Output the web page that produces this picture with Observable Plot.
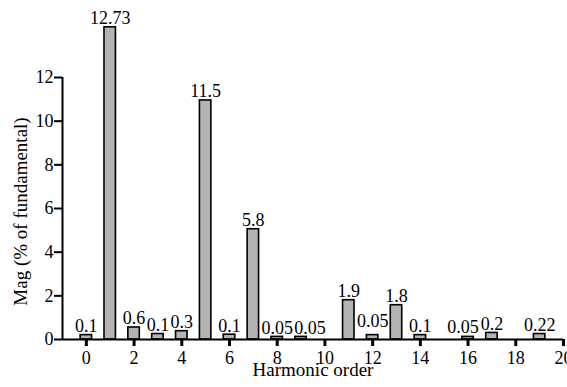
<!DOCTYPE html>
<html>
<head>
<meta charset="utf-8">
<script src="https://cdn.jsdelivr.net/npm/d3@7"></script>
<script src="https://cdn.jsdelivr.net/npm/@observablehq/plot@0.6"></script>
<style>
  html, body { margin: 0; padding: 0; background: #fff; }
  svg { display: block; }
</style>
</head>
<body>
<div id="chart"></div>
<script>
// Harmonic orders that carry a bar
const harmonics = [0, 1, 2, 3, 4, 5, 6, 7, 8, 9, 11, 12, 13, 14, 16, 17, 19];
// Bar heights as drawn (% of fundamental)
const magnitudes = [0.2, 14.3, 0.55, 0.25, 0.38, 10.95, 0.22, 5.05, 0.12, 0.12, 1.8, 0.2, 1.57, 0.2, 0.12, 0.3, 0.25];
// Value labels printed above the bars
const valueLabels = ["0.1", "12.73", "0.6", "0.1", "0.3", "11.5", "0.1", "5.8", "0.05", "0.05", "1.9", "0.05", "1.8", "0.1", "0.05", "0.2", "0.22"];
// Axis ticks
const xTicks = [0, 2, 4, 6, 8, 10, 12, 14, 16, 18, 20];
const yTicks = [0, 2, 4, 6, 8, 10, 12];
const xTitle = "Harmonic order";
const yTitle = "Mag (% of fundamental)";

const data = harmonics.map((h, i) => ({h, v: magnitudes[i], label: valueLabels[i]}));
const halfWidth = 0.24;
const labelStyle = {x: "h", y: "v", text: "label", lineAnchor: "bottom", fontSize: 18, fill: "#000"};

const chart = Plot.plot({
  width: 567,
  height: 387,
  marginLeft: 62,
  marginRight: 4,
  marginTop: 77,
  marginBottom: 48,
  style: {fontFamily: "'Liberation Serif', 'Times New Roman', serif", fontSize: "18px", color: "#000", background: "#fff"},
  x: {type: "linear", domain: [-1, 20]},
  y: {domain: [0, 12]},
  marks: [
    Plot.rectY(data, {x1: d => d.h - halfWidth, x2: d => d.h + halfWidth, y1: 0, y2: "v", fill: "#b3b3b3", stroke: "#000", strokeWidth: 1.6}),
    // value labels (a few are nudged as in the original figure)
    Plot.text(data, {...labelStyle, filter: d => ![9, 12, 16].includes(d.h), dy: -3}),
    Plot.text(data, {...labelStyle, filter: d => d.h === 9, dx: 9, dy: -3}),
    Plot.text(data, {...labelStyle, filter: d => d.h === 12, dy: -8}),
    Plot.text(data, {...labelStyle, filter: d => d.h === 16, dx: -5, dy: -4}),
    Plot.ruleX([-1], {y1: 0, y2: 12, stroke: "#000", strokeWidth: 2}),
    Plot.ruleY([0], {x1: -1, x2: 20, stroke: "#000", strokeWidth: 2}),
    Plot.axisY({ticks: yTicks, tickSize: 8, tickPadding: 1, strokeWidth: 2, stroke: "#000", fontSize: 18, label: null, tickFormat: d => String(d)}),
    Plot.axisX({ticks: xTicks, tickSize: 7, tickPadding: 5, strokeWidth: 3, stroke: "#000", fontSize: 18, label: null, tickFormat: d => String(d)}),
    Plot.text([xTitle], {frameAnchor: "bottom", lineAnchor: "bottom", dy: 36, fontSize: 19, fill: "#000"}),
    Plot.text([yTitle], {frameAnchor: "left", textAnchor: "middle", rotate: -90, lineAnchor: "bottom", dx: -36, dy: 3, fontSize: 19, fill: "#000"})
  ]
});
document.getElementById("chart").appendChild(chart);
</script>
</body>
</html>
